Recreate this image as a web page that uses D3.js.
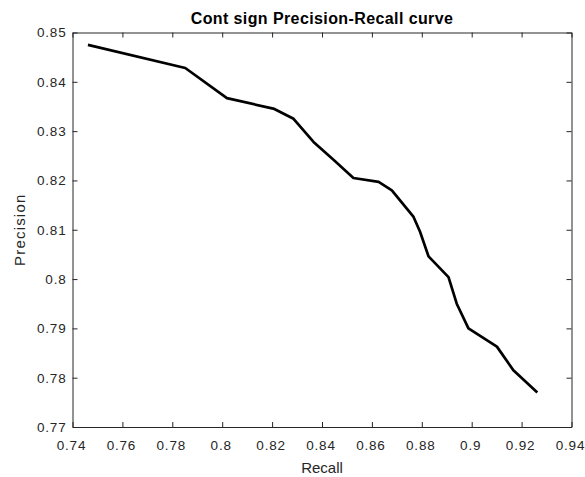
<!DOCTYPE html>
<html>
<head>
<meta charset="utf-8">
<script src="https://cdn.jsdelivr.net/npm/d3@7"></script>
<style>
  html, body { margin: 0; padding: 0; background: #fff; }
  svg { display: block; }
</style>
</head>
<body>
<svg id="chart" width="585" height="477"></svg>
<script>
const recall = [0.7462, 0.7852, 0.8019, 0.8209, 0.8286, 0.8366, 0.8446, 0.8526, 0.8627, 0.8680, 0.8767, 0.8793, 0.8827, 0.8907, 0.8940, 0.8987, 0.9101, 0.9167, 0.9263];
const precision = [0.8475, 0.8428, 0.8367, 0.8345, 0.8325, 0.8278, 0.8242, 0.8205, 0.8197, 0.8180, 0.8126, 0.8096, 0.8046, 0.8004, 0.7950, 0.7900, 0.7863, 0.7815, 0.7770];
const xTicks = [0.74, 0.76, 0.78, 0.80, 0.82, 0.84, 0.86, 0.88, 0.90, 0.92, 0.94];
const xTickLabels = ["0.74", "0.76", "0.78", "0.8", "0.82", "0.84", "0.86", "0.88", "0.9", "0.92", "0.94"];
const yTicks = [0.77, 0.78, 0.79, 0.80, 0.81, 0.82, 0.83, 0.84, 0.85];
const yTickLabels = ["0.77", "0.78", "0.79", "0.8", "0.81", "0.82", "0.83", "0.84", "0.85"];
const titleText = "Cont sign Precision-Recall curve";
const xLabel = "Recall";
const yLabel = "Precision";

const L = 72.5, R = 571.5, T = 32.5, B = 427;
const axisColor = "#262626";
const svg = d3.select("#chart");

const x = d3.scaleLinear().domain([0.74, 0.94]).range([L, R]);
const y = d3.scaleLinear().domain([0.77, 0.85]).range([B, T]);

const font = "'Liberation Sans', Arial, sans-serif";
const ls = 0.8;

// data line
const line = d3.line().x(d => x(d[0])).y(d => y(d[1]));
svg.append("path")
  .datum(recall.map((r, i) => [r, precision[i]]))
  .attr("d", line)
  .attr("fill", "none")
  .attr("stroke", "#000")
  .attr("stroke-width", 2.7)
  .attr("stroke-linejoin", "round");

// axes
const tickLen = 5;
const xAxisB = d3.axisBottom(x).tickValues(xTicks).tickFormat((d, i) => xTickLabels[i]).tickSizeInner(-tickLen).tickSizeOuter(0).tickPadding(13);
const xAxisT = d3.axisTop(x).tickValues(xTicks).tickFormat("").tickSizeInner(-tickLen).tickSizeOuter(0);
const yAxisL = d3.axisLeft(y).tickValues(yTicks).tickFormat((d, i) => yTickLabels[i]).tickSizeInner(-tickLen).tickSizeOuter(0).tickPadding(6);
const yAxisR = d3.axisRight(y).tickValues(yTicks).tickFormat("").tickSizeInner(-tickLen).tickSizeOuter(0);

function styleAxis(g) {
  g.select(".domain").attr("stroke", axisColor).attr("stroke-width", 1);
  g.selectAll(".tick line").attr("stroke", axisColor).attr("stroke-width", 1);
  g.selectAll(".tick text")
    .attr("fill", axisColor)
    .style("font-family", font)
    .style("font-size", "13.5px")
    .style("letter-spacing", ls + "px");
}

svg.append("g").attr("transform", `translate(0,${B})`).call(xAxisB).call(styleAxis)
  .selectAll(".tick text").attr("dx", -1.5);
svg.append("g").attr("transform", `translate(0,${T})`).call(xAxisT).call(styleAxis);
svg.append("g").attr("transform", `translate(${L},0)`).call(yAxisL).call(styleAxis);
svg.append("g").attr("transform", `translate(${R},0)`).call(yAxisR).call(styleAxis);

// title
svg.append("text")
  .attr("x", (L + R) / 2)
  .attr("y", 23.5)
  .attr("text-anchor", "middle")
  .attr("fill", "#000")
  .style("font-family", font)
  .style("font-weight", "bold")
  .style("font-size", "16px")
  .style("letter-spacing", "0.4px")
  .text(titleText);

// x label
svg.append("text")
  .attr("x", (L + R) / 2)
  .attr("y", 472.5)
  .attr("text-anchor", "middle")
  .attr("fill", axisColor)
  .style("font-family", font)
  .style("font-size", "15px")
  .text(xLabel);

// y label
svg.append("text")
  .attr("transform", `translate(25,${(T + B) / 2}) rotate(-90)`)
  .attr("text-anchor", "middle")
  .attr("fill", axisColor)
  .style("font-family", font)
  .style("font-size", "15px")
  .style("letter-spacing", "1.2px")
  .text(yLabel);
</script>
</body>
</html>
